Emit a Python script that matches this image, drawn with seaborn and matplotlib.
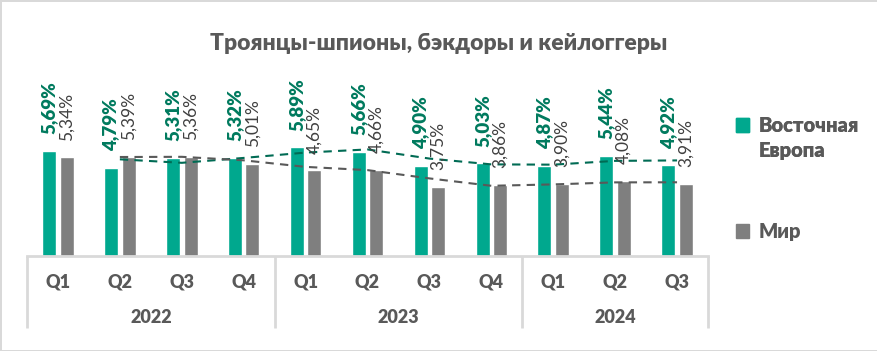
import pandas as pd
import seaborn as sns
import matplotlib.pyplot as plt
from matplotlib.patches import Patch

# data
quarters = ['Q1', 'Q2', 'Q3', 'Q4', 'Q1', 'Q2', 'Q3', 'Q4', 'Q1', 'Q2', 'Q3']
years = ['2022', '2023', '2024']
year_spans = [(0, 4), (4, 8), (8, 11)]
east_europe = [5.69, 4.79, 5.31, 5.32, 5.89, 5.66, 4.90, 5.03, 4.87, 5.44, 4.92]
world = [5.34, 5.39, 5.36, 5.01, 4.65, 4.66, 3.75, 3.86, 3.90, 4.08, 3.91]
series_names = ['Восточная Европа', 'Мир']

TEAL = '#00A88E'
TEAL_DARK = '#007A5E'
GRAY = '#7F7F7F'
TEXT = '#595959'
LINE = '#D9D9D9'

sns.set_style('white')
plt.rcParams['font.family'] = ['Lato', 'Open Sans', 'DejaVu Sans']
BOLD = 'heavy'

periods = [f'{i:02d}' for i in range(len(quarters))]
df = pd.DataFrame({
    'period': periods * 2,
    'value': east_europe + world,
    'series': [series_names[0]] * len(periods) + [series_names[1]] * len(periods),
})

fig = plt.figure(figsize=(8.78, 3.51), dpi=100)
fig.patch.set_edgecolor(LINE)
fig.patch.set_linewidth(2)
ax = fig.add_axes([27 / 878, 95 / 351, 681 / 878, 186 / 351])

sns.barplot(data=df, x='period', y='value', hue='series', order=periods,
            palette=[TEAL, GRAY], saturation=1, width=0.566, gap=0.2,
            legend=False, ax=ax)

# value labels
fmt = lambda v: f'{v:.2f}'.replace('.', ',') + '%'
ax.bar_label(ax.containers[0], labels=[fmt(v) for v in east_europe], rotation=90,
             padding=12, color=TEAL_DARK, fontsize=13.5, fontweight=BOLD)
ax.bar_label(ax.containers[1], labels=[fmt(v) for v in world], rotation=90,
             padding=12, color='#404040', fontsize=12.5)

# moving average trend lines (period 2)
x = list(range(len(periods)))
ma_ee = pd.Series(east_europe).rolling(2).mean()
ma_w = pd.Series(world).rolling(2).mean()
ax.plot(x, ma_ee, color='#006B54', ls=(0, (4, 3)), lw=1.5)
ax.plot(x, ma_w, color=TEXT, ls=(0, (4, 3)), lw=1.5)

ax.set_xlim(-0.5, len(periods) - 0.5)
ax.set_ylim(0, 10.08)
ax.set_xlabel('')
ax.set_ylabel('')
ax.set_yticks([])
ax.set_xticks([])
for s in ['top', 'left', 'right']:
    ax.spines[s].set_visible(False)
ax.spines['bottom'].set_color(LINE)
ax.spines['bottom'].set_linewidth(2)

# two-level category axis
for i, q in enumerate(quarters):
    ax.annotate(q, (i, 0), xycoords=('data', 'axes fraction'), xytext=(0, -19),
                textcoords='offset points', ha='center', va='center',
                fontsize=13, fontweight=BOLD, color=TEXT)
for yr, (a, b) in zip(years, year_spans):
    ax.annotate(yr, ((a + b - 1) / 2, 0), xycoords=('data', 'axes fraction'),
                xytext=(0, -44), textcoords='offset points', ha='center',
                va='center', fontsize=13, fontweight=BOLD, color=TEXT)
seps = [-0.5, 3.5, 7.5, 10.5]
ax.vlines(seps, -0.387, 0, transform=ax.get_xaxis_transform(), color=LINE,
          lw=2, clip_on=False)

fig.suptitle('Троянцы-шпионы, бэкдоры и кейлоггеры', y=0.905, fontsize=16.5,
             fontweight=BOLD, color=TEXT)

# legend
blank = Patch(color='none')
leg_kw = dict(loc='upper left', frameon=False, handlelength=0.65,
              handleheight=0.65, handletextpad=0.45, borderpad=0, labelspacing=0.3,
              prop={'size': 14.5, 'weight': BOLD}, labelcolor=TEXT)
leg1 = fig.legend([Patch(color=TEAL), blank], ['Восточная', 'Европа'],
                  bbox_to_anchor=(726 / 878, 1 - 106 / 351), **leg_kw)
fig.add_artist(leg1)
fig.legend([Patch(color=GRAY)], ['Мир'],
           bbox_to_anchor=(726 / 878, 1 - 212 / 351), **leg_kw)

fig.savefig('out.png', dpi=100)
